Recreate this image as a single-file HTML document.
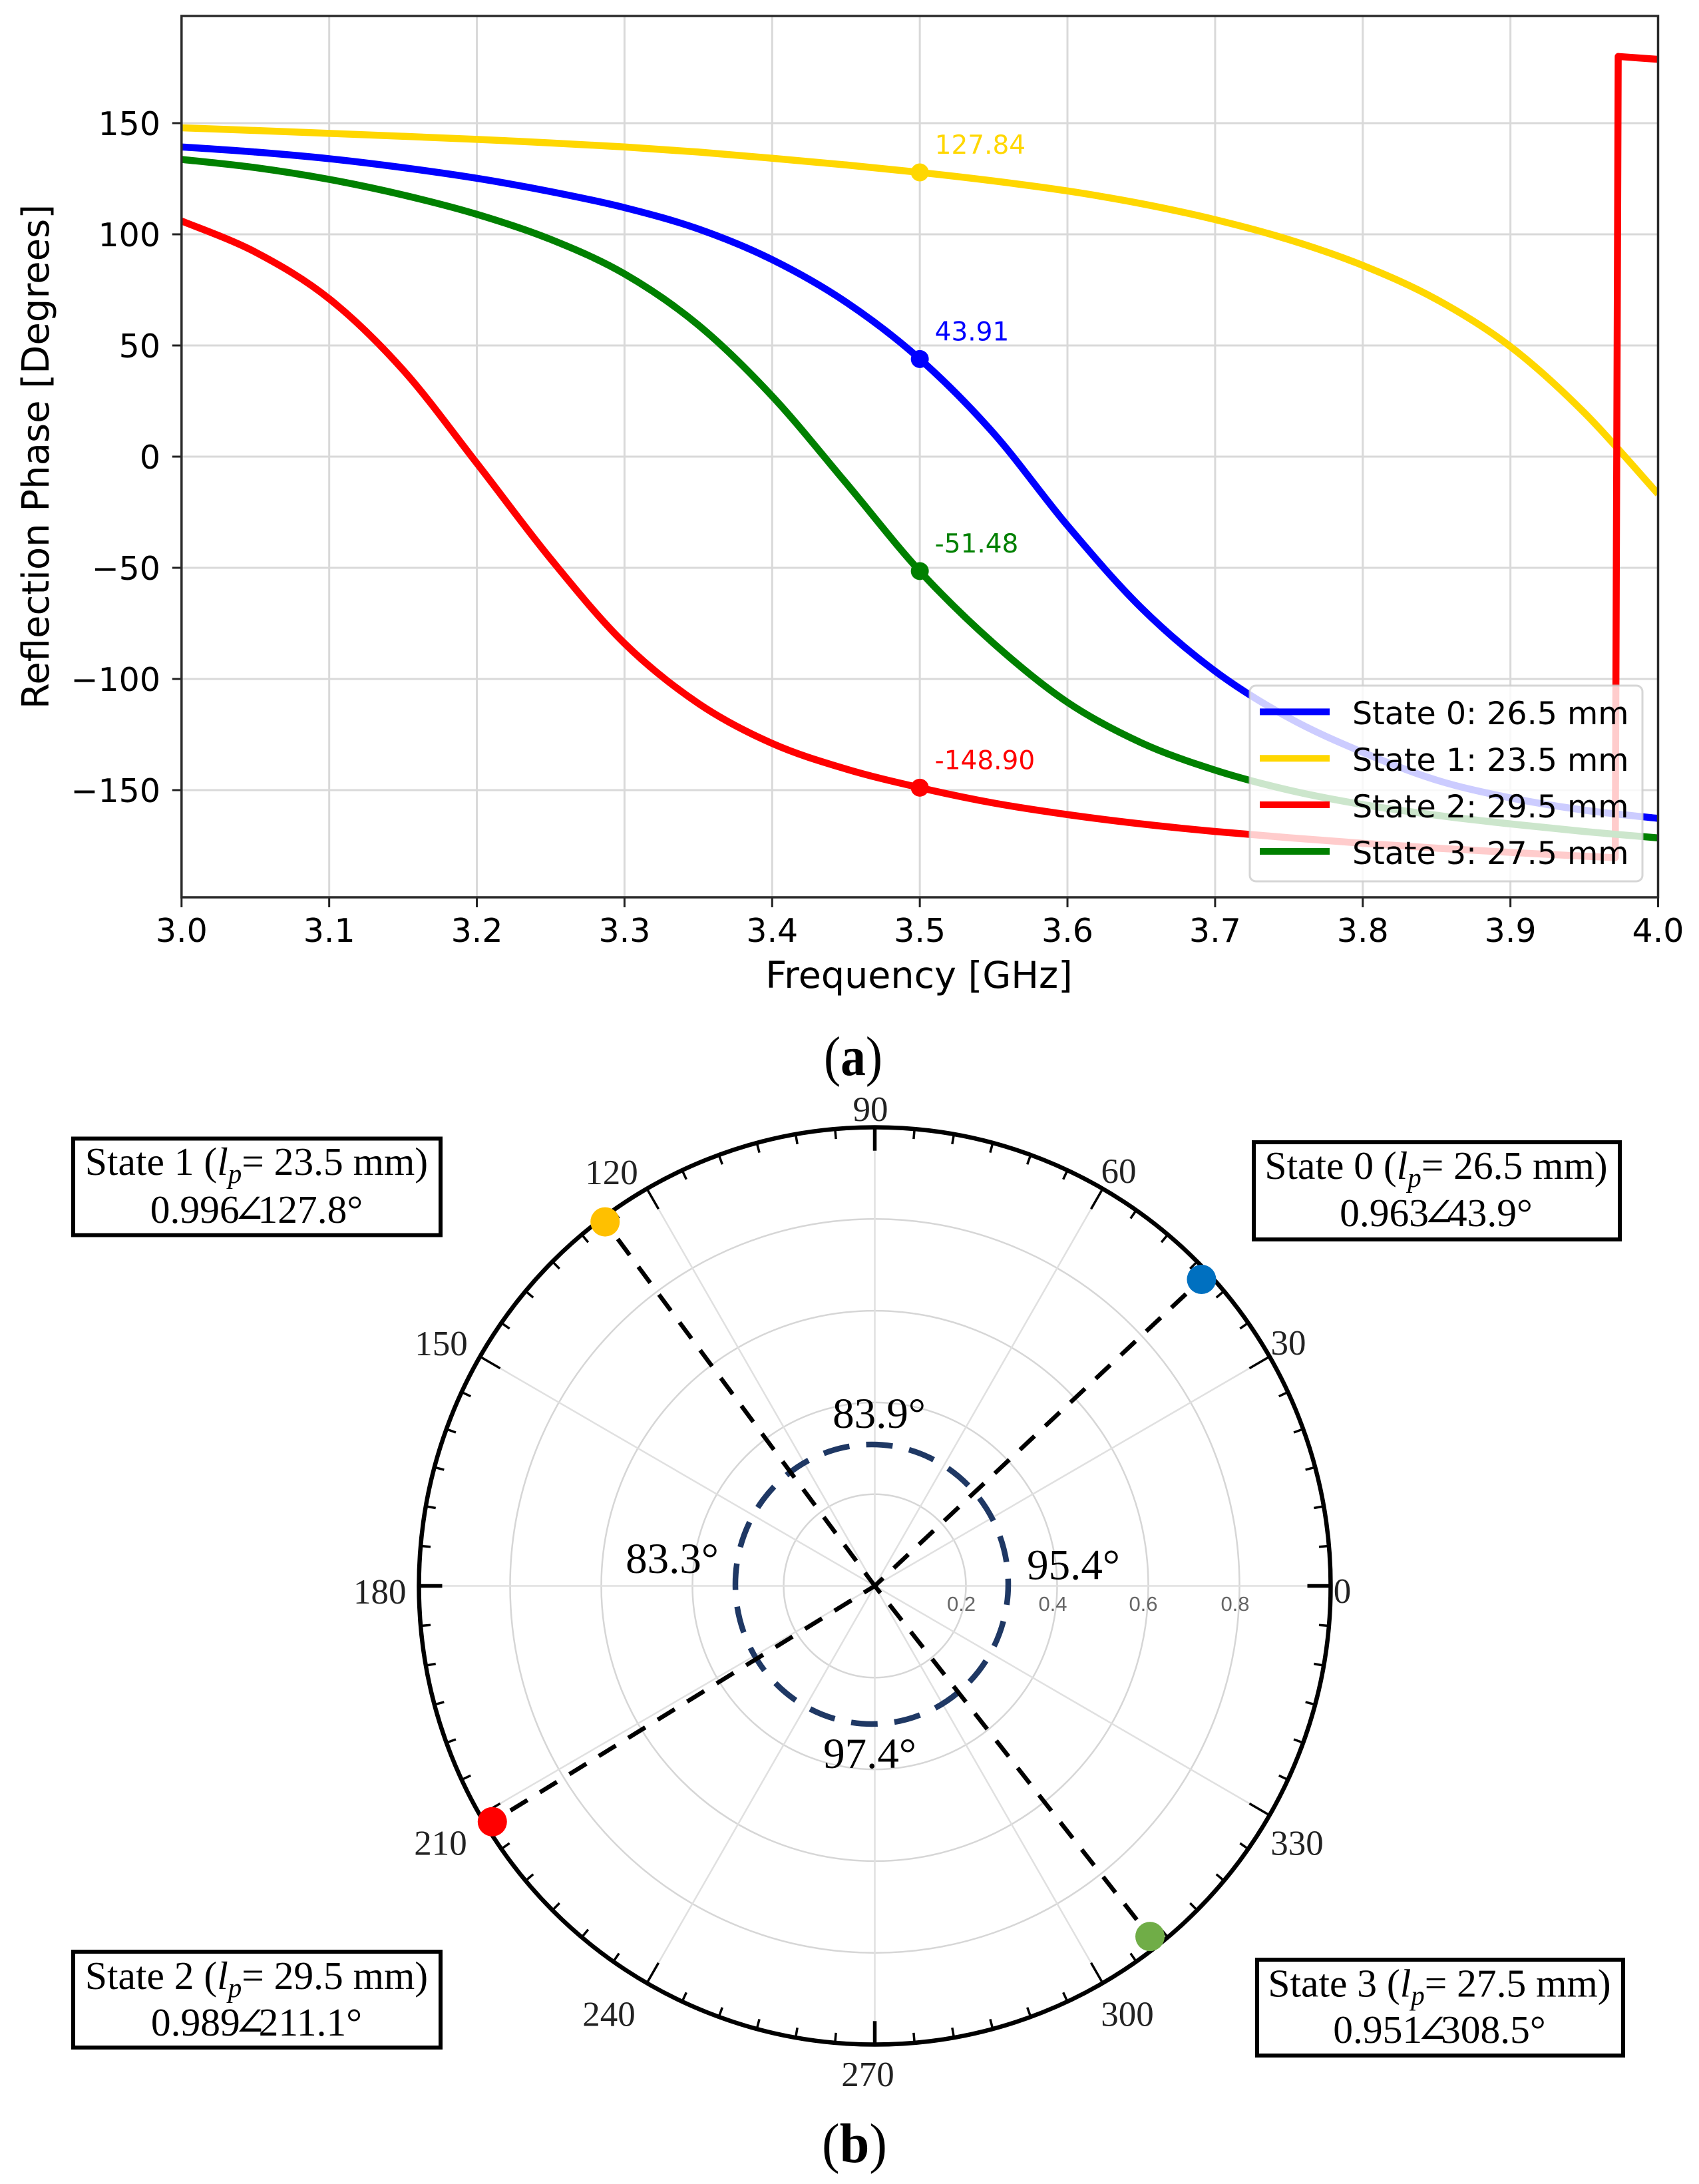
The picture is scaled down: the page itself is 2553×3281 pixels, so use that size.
<!DOCTYPE html>
<html lang="en">
<head>
<meta charset="utf-8">
<title>Reflection phase and polar reflection states</title>
<style>
html,body{margin:0;padding:0;background:#fff;}
svg{display:block;}
.mpl{font-family:"DejaVu Sans","Liberation Sans",sans-serif;}
.ser{font-family:"Liberation Serif","DejaVu Serif",serif;}
.san{font-family:"Liberation Sans",sans-serif;}
</style>
</head>
<body>
<svg id="figure" xmlns="http://www.w3.org/2000/svg" width="2553" height="3281" viewBox="0 0 2553 3281">
  <rect x="0" y="0" width="2553" height="3281" fill="#ffffff"/>
  <defs>
    <clipPath id="plot-clip"><rect x="272.8" y="24" width="2218.7" height="1324"/></clipPath>
  </defs>

  <g id="phase-chart">
    <g id="phase-grid"></g>
    <g id="phase-series" clip-path="url(#plot-clip)"></g>
    <g id="phase-annotations"></g>
    <g id="phase-axes"></g>
    <text class="mpl" x="1381" y="1484" font-size="55.5" text-anchor="middle" fill="#000">Frequency [GHz]</text>
    <text class="mpl" transform="translate(73,686) rotate(-90)" font-size="56" text-anchor="middle" fill="#000">Reflection Phase [Degrees]</text>

    <g>
      <rect x="1878" y="1030" width="590" height="294" rx="9" ry="9" fill="#ffffff" fill-opacity="0.8" stroke="#cccccc" stroke-opacity="0.8" stroke-width="3"/>
      <g>
        <line x1="1893" x2="1998" y1="1069.4" y2="1069.4" stroke="#0000ff" stroke-width="10"/>
        <text class="mpl" x="2032" y="1088" font-size="47.5" fill="#000">State 0: 26.5 mm</text>
      </g>
      <g>
        <line x1="1893" x2="1998" y1="1139.3" y2="1139.3" stroke="#ffd700" stroke-width="10"/>
        <text class="mpl" x="2032" y="1158" font-size="47.5" fill="#000">State 1: 23.5 mm</text>
      </g>
      <g>
        <line x1="1893" x2="1998" y1="1209" y2="1209" stroke="#ff0000" stroke-width="10"/>
        <text class="mpl" x="2032" y="1228" font-size="47.5" fill="#000">State 2: 29.5 mm</text>
      </g>
      <g>
        <line x1="1893" x2="1998" y1="1279" y2="1279" stroke="#008000" stroke-width="10"/>
        <text class="mpl" x="2032" y="1298" font-size="47.5" fill="#000">State 3: 27.5 mm</text>
      </g>
    </g>
  </g>

  <text class="ser" x="1282" y="1615" font-size="84" text-anchor="middle" textLength="88" lengthAdjust="spacingAndGlyphs" fill="#000">(<tspan font-weight="bold">a</tspan>)</text>

  <g id="polar-chart">
    <g id="polar-grid"></g>
    <g class="san" font-size="31" fill="#666" text-anchor="middle">
      <text x="1444.6" y="2420">0.2</text>
      <text x="1582" y="2420">0.4</text>
      <text x="1718" y="2420">0.6</text>
      <text x="1856" y="2420">0.8</text>
    </g>
    <ellipse cx="1310" cy="2380" rx="205" ry="210" fill="none" stroke="#1f3864" stroke-width="8.5" stroke-dasharray="40 25.2" stroke-dashoffset="9"/>
    <g id="polar-states"></g>

    <g class="ser" font-size="53" fill="#222" text-anchor="middle">
      <text x="2017" y="2408">0</text>
      <text x="1936" y="2035">30</text>
      <text x="1681" y="1777">60</text>
      <text x="1308" y="1684">90</text>
      <text x="919" y="1779">120</text>
      <text x="663" y="2036">150</text>
      <text x="570.7" y="2409">180</text>
      <text x="662" y="2786.5">210</text>
      <text x="915" y="3043.5">240</text>
      <text x="1304" y="3134">270</text>
      <text x="1694" y="3043.5">300</text>
      <text x="1949" y="2786.5">330</text>
    </g>

    <g class="ser" font-size="65" fill="#000" text-anchor="middle">
      <text x="1321" y="2145">83.9°</text>
      <text x="1613" y="2372.5">95.4°</text>
      <text x="1010" y="2363">83.3°</text>
      <text x="1307" y="2656">97.4°</text>
    </g>

    <g>
      <rect x="110" y="1710.5" width="552" height="145" fill="#fff" stroke="#000" stroke-width="6"/>
      <text class="ser" x="385.5" y="1765" font-size="59.5" text-anchor="middle" fill="#000">State 1 (<tspan font-style="italic">l</tspan><tspan font-style="italic" font-size="41" dy="12">p</tspan><tspan dy="-12">= 23.5 mm)</tspan></text>
      <text class="ser" x="385.5" y="1837" font-size="59.5" text-anchor="middle" fill="#000">0.996<tspan dx="-10">∠</tspan><tspan dx="-12">127.8°</tspan></text>
    </g>
    <g>
      <rect x="1884" y="1716" width="550" height="146" fill="#fff" stroke="#000" stroke-width="6"/>
      <text class="ser" x="2158" y="1770.8" font-size="59.5" text-anchor="middle" fill="#000">State 0 (<tspan font-style="italic">l</tspan><tspan font-style="italic" font-size="41" dy="12">p</tspan><tspan dy="-12">= 26.5 mm)</tspan></text>
      <text class="ser" x="2158" y="1842" font-size="59.5" text-anchor="middle" fill="#000">0.963<tspan dx="-10">∠</tspan><tspan dx="-12">43.9°</tspan></text>
    </g>
    <g>
      <rect x="110" y="2932" width="552" height="144" fill="#fff" stroke="#000" stroke-width="6"/>
      <text class="ser" x="385.5" y="2988" font-size="59.5" text-anchor="middle" fill="#000">State 2 (<tspan font-style="italic">l</tspan><tspan font-style="italic" font-size="41" dy="12">p</tspan><tspan dy="-12">= 29.5 mm)</tspan></text>
      <text class="ser" x="385.5" y="3058" font-size="59.5" text-anchor="middle" fill="#000">0.989<tspan dx="-10">∠</tspan><tspan dx="-12">211.1°</tspan></text>
    </g>
    <g>
      <rect x="1889" y="2944" width="550" height="144" fill="#fff" stroke="#000" stroke-width="6"/>
      <text class="ser" x="2163" y="2999.5" font-size="59.5" text-anchor="middle" fill="#000">State 3 (<tspan font-style="italic">l</tspan><tspan font-style="italic" font-size="41" dy="12">p</tspan><tspan dy="-12">= 27.5 mm)</tspan></text>
      <text class="ser" x="2163" y="3069" font-size="59.5" text-anchor="middle" fill="#000">0.951<tspan dx="-10">∠</tspan><tspan dx="-12">308.5°</tspan></text>
    </g>
  </g>

  <text class="ser" x="1284" y="3248" font-size="84" text-anchor="middle" textLength="98" lengthAdjust="spacingAndGlyphs" fill="#000">(<tspan font-weight="bold">b</tspan>)</text>
</svg>

<script>
// ---- chart (a) data ----
var xTickValues = [3.0, 3.1, 3.2, 3.3, 3.4, 3.5, 3.6, 3.7, 3.8, 3.9, 4.0];
var xTickLabels = ["3.0", "3.1", "3.2", "3.3", "3.4", "3.5", "3.6", "3.7", "3.8", "3.9", "4.0"];
var yTickValues = [150, 100, 50, 0, -50, -100, -150];
var yTickLabels = ["150", "100", "50", "0", "\u221250", "\u2212100", "\u2212150"];

var frequencies = [3.00, 3.05, 3.10, 3.15, 3.20, 3.25, 3.30, 3.35, 3.40, 3.45, 3.50, 3.55, 3.60, 3.65, 3.70, 3.75, 3.80, 3.85, 3.90, 3.95, 4.00];
var state0Phase = [139.3, 137, 134, 130, 125.2, 119.2, 112, 102.4, 88.6, 69.5, 43.91, 10.5, -31, -68, -96.5, -117.5, -133, -145.5, -153.5, -159, -162.7];
var state1Phase = [147.9, 146.7, 145.4, 144.1, 142.7, 141.1, 139.3, 137, 134.2, 131.2, 127.84, 124, 119.5, 113.8, 106.6, 97.6, 86, 70.7, 49.5, 19.8, -16.8];
var state3Phase = [133.7, 130, 124.7, 117.7, 109, 97.7, 82.2, 59.2, 27.2, -11.8, -51.48, -84, -110.5, -128.7, -141, -150, -156.5, -161.3, -165.2, -168.6, -171.5];

var state2Frequencies = [3.00, 3.05, 3.10, 3.15, 3.20, 3.25, 3.30, 3.35, 3.40, 3.45, 3.50, 3.55, 3.60, 3.65, 3.70, 3.75, 3.80, 3.85, 3.90, 3.95, 3.971];
var state2Phase = [106, 92, 71, 39, -3, -46, -84, -111, -129, -140.5, -148.9, -155.8, -161, -165.2, -168.6, -171.4, -173.9, -176.1, -178, -179.7, -180.4];
var state2WrappedFrequencies = [3.973, 4.00];
var state2WrappedPhase = [180, 178.7];

var markerFrequency = 3.5;
var markerPhase0 = 43.91;
var markerPhase1 = 127.84;
var markerPhase2 = -148.90;
var markerPhase3 = -51.48;

// ---- chart (b) data ----
var polarAngleTicks = [0, 5, 10, 15, 20, 25, 30, 35, 40, 45, 50, 55, 60, 65, 70, 75, 80, 85, 90, 95, 100, 105, 110, 115, 120, 125, 130, 135, 140, 145, 150, 155, 160, 165, 170, 175, 180, 185, 190, 195, 200, 205, 210, 215, 220, 225, 230, 235, 240, 245, 250, 255, 260, 265, 270, 275, 280, 285, 290, 295, 300, 305, 310, 315, 320, 325, 330, 335, 340, 345, 350, 355];
var polarRings = [0.2, 0.4, 0.6, 0.8];
var polarStateNames = ["state-0", "state-1", "state-2", "state-3"];
var polarStateAngles = [43.0, 126.7, 211.5, 308.3];
var polarStateRadii = [0.98, 0.99, 0.984, 0.974];
var polarStateColors = ["#0070c0", "#ffc000", "#ff0000", "#70ad47"];

// ---- helpers ----
var NS = "http://www.w3.org/2000/svg";
function add(parent, tag, attrs) {
  var el = document.createElementNS(NS, tag);
  for (var k in attrs) { el.setAttribute(k, attrs[k]); }
  parent.appendChild(el);
  return el;
}

// axis functions for chart (a)
var PX0 = 272.8, PX1 = 2491.5, PY0 = 24, PY1 = 1348;
function xScale(f) { return PX0 + (f - 3.0) * (PX1 - PX0); }
function yScale(v) { return 686 - 3.34 * v; }

function smoothPath(xs, ys) {
  var pts = xs.map(function (x, i) { return [xScale(x), yScale(ys[i])]; });
  var d = "M" + pts[0][0].toFixed(2) + " " + pts[0][1].toFixed(2);
  for (var i = 0; i < pts.length - 1; i++) {
    var p0 = pts[Math.max(i - 1, 0)], p1 = pts[i], p2 = pts[i + 1], p3 = pts[Math.min(i + 2, pts.length - 1)];
    var c1x = p1[0] + (p2[0] - p0[0]) / 6, c1y = p1[1] + (p2[1] - p0[1]) / 6;
    var c2x = p2[0] - (p3[0] - p1[0]) / 6, c2y = p2[1] - (p3[1] - p1[1]) / 6;
    d += "C" + c1x.toFixed(2) + " " + c1y.toFixed(2) + " " + c2x.toFixed(2) + " " + c2y.toFixed(2) + " " + p2[0].toFixed(2) + " " + p2[1].toFixed(2);
  }
  return d;
}

// ---- draw chart (a) ----
var grid = document.getElementById("phase-grid");
var axes = document.getElementById("phase-axes");
var seriesG = document.getElementById("phase-series");
var annG = document.getElementById("phase-annotations");

xTickValues.forEach(function (t, i) {
  var x = xScale(t);
  var g = add(grid, "line", { x1: x, x2: x, y1: PY0, y2: PY1, stroke: "#d9d9d9", "stroke-width": 3 });
  
  
  var tick = add(axes, "line", { x1: x, x2: x, y1: PY1, y2: PY1 + 15, stroke: "#222", "stroke-width": 3 });
  
  
  var lab = add(axes, "text", { x: x, y: 1415, "font-size": 49, "text-anchor": "middle", fill: "#000", "class": "mpl" });
  
  
  lab.textContent = xTickLabels[i];
});
yTickValues.forEach(function (t, i) {
  var y = yScale(t);
  var g = add(grid, "line", { x1: PX0, x2: PX1, y1: y, y2: y, stroke: "#d9d9d9", "stroke-width": 3 });
  
  
  var tick = add(axes, "line", { x1: PX0 - 14, x2: PX0, y1: y, y2: y, stroke: "#222", "stroke-width": 3 });
  
  
  var lab = add(axes, "text", { x: 241, y: y + 18, "font-size": 49, "text-anchor": "end", fill: "#000", "class": "mpl" });
  
  
  lab.textContent = yTickLabels[i];
});
var frame = add(axes, "rect", { x: PX0, y: PY0, width: PX1 - PX0, height: PY1 - PY0, fill: "none", stroke: "#2a2a2a", "stroke-width": 3.5 });



function curve(d, color) {
  return add(seriesG, "path", { d: d, fill: "none", stroke: color, "stroke-width": 10.5, "stroke-linejoin": "round", "stroke-linecap": "butt" });
}
var line0 = curve(smoothPath(frequencies, state0Phase), "#0000ff");


var line1 = curve(smoothPath(frequencies, state1Phase), "#ffd700");


var redD = smoothPath(state2Frequencies, state2Phase) + smoothPath(state2WrappedFrequencies, state2WrappedPhase).replace("M", "L");
var line2 = curve(redD, "#ff0000");


var line3 = curve(smoothPath(frequencies, state3Phase), "#008000");



function markerDot(value, color) {
  return add(annG, "circle", { cx: xScale(markerFrequency), cy: yScale(value), r: 13.5, fill: color });
}
function markerText(value, color) {
  var t = add(annG, "text", { x: xScale(markerFrequency) + 22.5, y: yScale(value) - 28, "font-size": 39, fill: color, "class": "mpl" });
  t.textContent = value.toFixed(2);
  return t;
}
var dot0 = markerDot(markerPhase0, "#0000ff");


var txt0 = markerText(markerPhase0, "#0000ff");


var dot1 = markerDot(markerPhase1, "#ffd700");


var txt1 = markerText(markerPhase1, "#ffd700");


var dot2 = markerDot(markerPhase2, "#ff0000");


var txt2 = markerText(markerPhase2, "#ff0000");


var dot3 = markerDot(markerPhase3, "#008000");


var txt3 = markerText(markerPhase3, "#008000");



// ---- draw chart (b) ----
var CX = 1314.5, CY = 2382.5, RX = 685, RY = 689;
function polarX(angle, r) { return CX + RX * r * Math.cos(angle * Math.PI / 180); }
function polarY(angle, r) { return CY - RY * r * Math.sin(angle * Math.PI / 180); }

var pg = document.getElementById("polar-grid");
polarRings.forEach(function (r) {
  var ring = add(pg, "ellipse", { cx: CX, cy: CY, rx: RX * r, ry: RY * r, fill: "none", stroke: "#d6d6d6", "stroke-width": 2.5 });
  
  
});
polarAngleTicks.forEach(function (a) {
  var major = a % 30 === 0;
  if (major) {
    var spoke = add(pg, "line", { x1: CX, y1: CY, x2: polarX(a, 1), y2: polarY(a, 1), stroke: "#e0e0e0", "stroke-width": 2.5 });
    
    
  }
});
var outer = add(pg, "ellipse", { cx: CX, cy: CY, rx: RX, ry: RY, fill: "none", stroke: "#000", "stroke-width": 6.5 });


polarAngleTicks.forEach(function (a) {
  var major = a % 30 === 0;
  var inner = major ? 1 - 35 / RX : 1 - 15 / RX;
  var tick = add(pg, "line", { x1: polarX(a, 1), y1: polarY(a, 1), x2: polarX(a, inner), y2: polarY(a, inner), stroke: "#000", "stroke-width": a % 90 === 0 ? 5.5 : 3.5 });
  
  
});

var sg = document.getElementById("polar-states");
polarStateAngles.forEach(function (a, i) {
  var r = polarStateRadii[i];
  var px = polarX(a, r), py = polarY(a, r);
  var ln = add(sg, "line", { x1: px, y1: py, x2: CX, y2: CY, stroke: "#000", "stroke-width": 6.5, "stroke-dasharray": "30 22", "stroke-dashoffset": 20 });
  
  
});
polarStateAngles.forEach(function (a, i) {
  var r = polarStateRadii[i];
  var dot = add(sg, "circle", { cx: polarX(a, r), cy: polarY(a, r), r: 22, fill: polarStateColors[i] });
  
  
});
</script>
</body>
</html>
